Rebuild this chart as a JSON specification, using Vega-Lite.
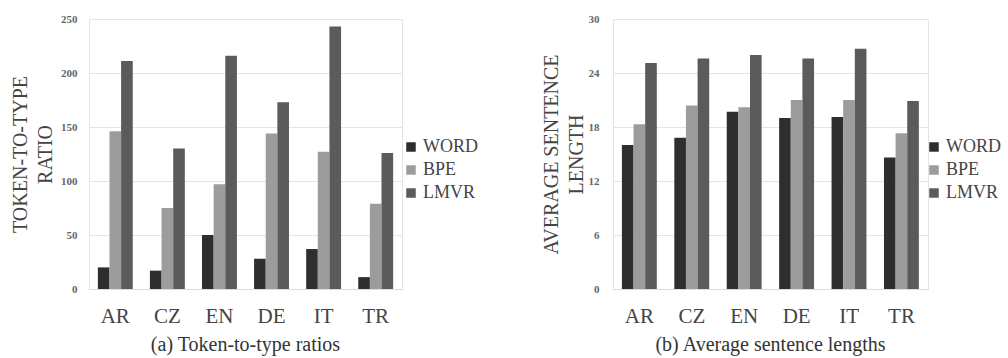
{
  "$schema": "https://vega.github.io/schema/vega-lite/v6.json",
  "background": "white",
  "padding": {"left": 10, "top": 12, "right": 0, "bottom": 0},
  "datasets": {
    "ratio": [
      {"lang": "AR", "method": "WORD", "value": 20},
      {"lang": "AR", "method": "BPE", "value": 146},
      {"lang": "AR", "method": "LMVR", "value": 211},
      {"lang": "CZ", "method": "WORD", "value": 17},
      {"lang": "CZ", "method": "BPE", "value": 75},
      {"lang": "CZ", "method": "LMVR", "value": 130},
      {"lang": "EN", "method": "WORD", "value": 50},
      {"lang": "EN", "method": "BPE", "value": 97},
      {"lang": "EN", "method": "LMVR", "value": 216},
      {"lang": "DE", "method": "WORD", "value": 28},
      {"lang": "DE", "method": "BPE", "value": 144},
      {"lang": "DE", "method": "LMVR", "value": 173},
      {"lang": "IT", "method": "WORD", "value": 37},
      {"lang": "IT", "method": "BPE", "value": 127},
      {"lang": "IT", "method": "LMVR", "value": 243},
      {"lang": "TR", "method": "WORD", "value": 11},
      {"lang": "TR", "method": "BPE", "value": 79},
      {"lang": "TR", "method": "LMVR", "value": 126}
    ],
    "length": [
      {"lang": "AR", "method": "WORD", "value": 16.0},
      {"lang": "AR", "method": "BPE", "value": 18.3},
      {"lang": "AR", "method": "LMVR", "value": 25.1},
      {"lang": "CZ", "method": "WORD", "value": 16.8},
      {"lang": "CZ", "method": "BPE", "value": 20.4},
      {"lang": "CZ", "method": "LMVR", "value": 25.6},
      {"lang": "EN", "method": "WORD", "value": 19.7},
      {"lang": "EN", "method": "BPE", "value": 20.2},
      {"lang": "EN", "method": "LMVR", "value": 26.0},
      {"lang": "DE", "method": "WORD", "value": 19.0},
      {"lang": "DE", "method": "BPE", "value": 21.0},
      {"lang": "DE", "method": "LMVR", "value": 25.6},
      {"lang": "IT", "method": "WORD", "value": 19.1},
      {"lang": "IT", "method": "BPE", "value": 21.0},
      {"lang": "IT", "method": "LMVR", "value": 26.7},
      {"lang": "TR", "method": "WORD", "value": 14.6},
      {"lang": "TR", "method": "BPE", "value": 17.3},
      {"lang": "TR", "method": "LMVR", "value": 20.9}
    ]
  },
  "config": {
    "font": "Times New Roman",
    "view": {"stroke": "#e4e4e4", "strokeWidth": 1},
    "axis": {
      "labelFont": "Times New Roman",
      "titleFont": "Times New Roman",
      "titleFontWeight": "normal",
      "labelColor": "#444",
      "titleColor": "#444",
      "ticks": false
    },
    "legend": {
      "labelFont": "Times New Roman",
      "labelFontSize": 18,
      "labelColor": "#444",
      "symbolType": "square",
      "symbolSize": 90,
      "symbolStrokeWidth": 0,
      "rowPadding": 5,
      "labelOffset": 3
    },
    "title": {"font": "Times New Roman", "fontSize": 20, "fontWeight": "normal", "color": "#333"}
  },
  "hconcat": [
    {
      "data": {"name": "ratio"},
      "width": 313,
      "height": 270,
      "title": {"text": "(a) Token-to-type ratios", "orient": "bottom", "anchor": "middle", "frame": "group", "offset": 9},
      "mark": {"type": "bar"},
      "encoding": {
        "x": {
          "field": "lang", "type": "nominal", "sort": ["AR", "CZ", "EN", "DE", "IT", "TR"],
          "scale": {"paddingInner": 0.33, "paddingOuter": 0.17},
          "axis": {"title": null, "labelAngle": 0, "labelFontSize": 21, "labelPadding": 16, "domainColor": "#dcdcdc", "grid": false}
        },
        "xOffset": {"field": "method", "type": "nominal", "sort": ["WORD", "BPE", "LMVR"], "scale": {"paddingInner": 0, "paddingOuter": 0}},
        "y": {
          "field": "value", "type": "quantitative",
          "scale": {"domain": [0, 250], "nice": false},
          "axis": {"values": [0, 50, 100, 150, 200, 250], "title": ["TOKEN-TO-TYPE", "RATIO"], "titleFontSize": 20, "titleLineHeight": 25, "titlePadding": 5, "labelFontSize": 11, "labelFontWeight": "bold", "labelColor": "#666", "labelPadding": 12, "domain": false, "gridColor": "#e4e4e4"}
        },
        "color": {
          "field": "method", "type": "nominal", "sort": ["WORD", "BPE", "LMVR"],
          "scale": {"domain": ["WORD", "BPE", "LMVR"], "range": ["#2e2e2e", "#9c9c9c", "#5b5b5b"]},
          "legend": {"title": null, "orient": "none", "legendX": 313, "legendY": 119}
        }
      }
    },
    {
      "data": {"name": "length"},
      "width": 315,
      "height": 270,
      "title": {"text": "(b) Average sentence lengths", "orient": "bottom", "anchor": "middle", "frame": "group", "offset": 9},
      "mark": {"type": "bar"},
      "encoding": {
        "x": {
          "field": "lang", "type": "nominal", "sort": ["AR", "CZ", "EN", "DE", "IT", "TR"],
          "scale": {"paddingInner": 0.33, "paddingOuter": 0.17},
          "axis": {"title": null, "labelAngle": 0, "labelFontSize": 21, "labelPadding": 16, "domainColor": "#dcdcdc", "grid": false}
        },
        "xOffset": {"field": "method", "type": "nominal", "sort": ["WORD", "BPE", "LMVR"], "scale": {"paddingInner": 0, "paddingOuter": 0}},
        "y": {
          "field": "value", "type": "quantitative",
          "scale": {"domain": [0, 30], "nice": false},
          "axis": {"values": [0, 6, 12, 18, 24, 30], "title": ["AVERAGE SENTENCE", "LENGTH"], "titleFontSize": 20, "titleLineHeight": 25, "titlePadding": 2, "labelFontSize": 11, "labelFontWeight": "bold", "labelColor": "#666", "labelPadding": 14, "domain": false, "gridColor": "#e4e4e4"}
        },
        "color": {
          "field": "method", "type": "nominal", "sort": ["WORD", "BPE", "LMVR"],
          "scale": {"domain": ["WORD", "BPE", "LMVR"], "range": ["#2e2e2e", "#9c9c9c", "#5b5b5b"]},
          "legend": {"title": null, "orient": "none", "legendX": 312, "legendY": 119}
        }
      }
    }
  ],
  "spacing": 61,
  "resolve": {"scale": {"color": "independent"}}
}
